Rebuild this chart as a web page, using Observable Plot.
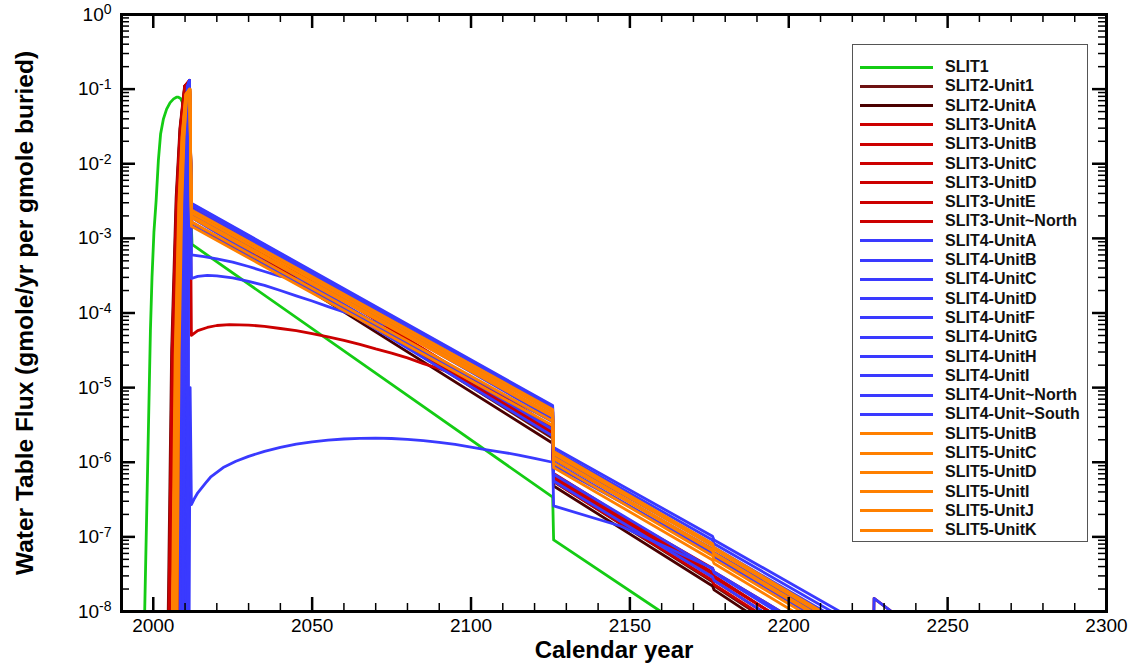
<!DOCTYPE html>
<html>
<head>
<meta charset="utf-8">
<script src="https://cdn.jsdelivr.net/npm/d3@7"></script>
<script src="https://cdn.jsdelivr.net/npm/@observablehq/plot@0.6"></script>
<style>
  body { margin: 0; background: #fff; font-family: "Liberation Sans", Arial, sans-serif; }
  #wrap { position: relative; width: 1138px; height: 671px; }
  #legend { position: absolute; left: 852px; top: 44px; width: 236px; height: 498px;
            border: 1.5px solid #555; background: #fff; box-sizing: border-box; }
  .sw { position: absolute; left: 7px; width: 73px; height: 3px; }
  .lb { position: absolute; left: 92px; font-weight: bold; font-size: 16px; line-height: 18px; color: #111; white-space: nowrap; }
</style>
</head>
<body>
<div id="wrap"><div id="legend"></div></div>
<script>
// ---- data: [calendar year, water table flux] ----
const SLIT1 = [[1997.3,1e-8],[1999.1,5.8e-5],[1999.6,3.0e-4],[2000.2,1.2e-3],[2000.9,3.2e-3],[2001.6,1.1e-2],[2002.3,2.5e-2],[2003.2,4.0e-2],[2004.2,5.4e-2],[2005.3,6.6e-2],[2006.4,7.4e-2],[2007.3,7.8e-2],[2007.9,7.8e-2],[2008.6,7.5e-2],[2009.3,6.5e-2],[2010,5.0e-2],[2010.6,3.4e-2],[2011.2,1.2e-2],[2011.7,3e-3],[2012.2,8.3e-4],[2125.7,3.4e-7],[2126,9.1e-8],[2159.7,1e-8],[2161,9e-9]];
const SLIT2_Unit1 = [[2004.7,1e-8],[2005.77,3.1e-5],[2007.18,3.5e-3],[2008.39,3.0e-2],[2009.86,1.1e-1],[2011.4,1.25e-1],[2012,2.3e-3],[2125.7,2.1e-6],[2126,5.5e-7],[2176,2.5e-8],[2176.5,2.2e-8],[2192.6,7.9e-9]];
const SLIT2_UnitA = [[2005.0,1e-8],[2006.02,3.1e-5],[2007.37,3.5e-3],[2008.52,3.0e-2],[2009.93,1.1e-1],[2011.4,1.28e-1],[2012,2.0e-3],[2125.7,1.8e-6],[2126,4.8e-7],[2176,2.2e-8],[2176.5,1.95e-8],[2190.4,7.9e-9]];
const SLIT3_UnitA = [[2004.9,1e-8],[2005.94,3.1e-5],[2007.31,3.5e-3],[2008.48,3.0e-2],[2009.91,1.1e-1],[2011.4,1.32e-1],[2012,2.8e-3],[2125.7,2.75e-6],[2126,6.2e-7],[2176,2.9e-8],[2176.5,2.6e-8],[2195.4,7.9e-9]];
const SLIT3_UnitB = [[2005.3,1e-8],[2006.28,3.1e-5],[2007.56,3.5e-3],[2008.66,3.0e-2],[2010.0,1.1e-1],[2011.4,1.3e-1],[2012,2.4e-3],[2125.7,2.35e-6],[2126,5.5e-7],[2176,2.6e-8],[2176.5,2.3e-8],[2193.5,7.9e-9]];
const SLIT3_UnitC = [[2009.9,1e-8],[2010.14,3.1e-5],[2010.46,3.5e-3],[2010.73,3.0e-2],[2011.06,1.1e-1],[2011.4,1.3e-1],[2012,5.0e-5],[2014,5.8e-5],[2017,6.4e-5],[2020,6.8e-5],[2024,7.0e-5],[2030,6.9e-5],[2035,6.6e-5],[2040,6.2e-5],[2045,5.8e-5],[2050,5.3e-5],[2055,4.8e-5],[2060,4.3e-5],[2065,3.8e-5],[2070,3.3e-5],[2075,2.9e-5],[2080,2.5e-5],[2085,2.1e-5],[2090,1.8e-5],[2095,1.5e-5],[2100,1.27e-5],[2105,1.05e-5],[2125.7,2.95e-6],[2126,7.1e-7],[2176,3.35e-8],[2176.5,3.0e-8],[2197.6,7.9e-9]];
const SLIT3_UnitD = [[2007.9,1e-8],[2008.46,3.1e-5],[2009.2,3.5e-3],[2009.83,3.0e-2],[2010.6,1.1e-1],[2011.4,1.3e-1],[2012,2.0e-3],[2125.7,2.5e-6],[2126,6.0e-7],[2176,3.2e-8],[2176.5,2.85e-8],[2197.7,7.9e-9]];
const SLIT3_UnitE = [[2010.2,1e-8],[2010.39,3.1e-5],[2010.64,3.5e-3],[2010.86,3.0e-2],[2011.12,1.1e-1],[2011.4,1.3e-1],[2012,2.6e-3],[2125.7,2.9e-6],[2126,6.6e-7],[2176,3.3e-8],[2176.5,2.95e-8],[2197.7,7.9e-9]];
const SLIT3_UnitNorth = [[2008.2,1e-8],[2008.71,3.1e-5],[2009.38,3.5e-3],[2009.96,3.0e-2],[2010.66,1.1e-1],[2011.4,1.3e-1],[2012,1.66e-3],[2125.7,2.7e-6],[2126,6.3e-7],[2176,3.8e-8],[2176.5,3.4e-8],[2201.4,7.9e-9],[2226.6,3e-9],[2226.85,1.5e-8],[2235.5,7.9e-9]];
const SLIT4_UnitA = [[2008.4,1e-8],[2008.88,3.1e-5],[2009.51,3.5e-3],[2010.05,3.0e-2],[2010.71,1.1e-1],[2011.4,1.3e-1],[2012,2.95e-3],[2125.7,5.75e-6],[2126,1.58e-6],[2176,1.02e-7],[2176.5,9.1e-8],[2219,8.5e-9]];
const SLIT4_UnitB = [[2010.6,1e-8],[2010.73,3.1e-5],[2010.9,3.5e-3],[2011.04,3.0e-2],[2011.22,1.1e-1],[2011.4,1.3e-1],[2012,6.0e-4],[2016,5.7e-4],[2020,5.3e-4],[2025,4.8e-4],[2030,4.2e-4],[2035,3.6e-4],[2040,3.1e-4],[2045,2.85e-4],[2052,2.45e-4],[2125.7,4.2e-6],[2126,1.1e-6],[2176,6.9e-8],[2176.5,6.2e-8],[2212.8,7.9e-9]];
const SLIT4_UnitC = [[2010.9,1e-8],[2010.98,3.1e-5],[2011.09,3.5e-3],[2011.18,3.0e-2],[2011.29,1.1e-1],[2011.4,1.3e-1],[2012,2.9e-4],[2014,3.1e-4],[2017,3.2e-4],[2020,3.15e-4],[2025,2.95e-4],[2030,2.65e-4],[2035,2.35e-4],[2040,2.0e-4],[2045,1.7e-4],[2050,1.45e-4],[2055,1.22e-4],[2060,1.03e-4],[2067,8.2e-5],[2075,6.6e-5],[2125.7,3.8e-6],[2126,1.0e-6],[2176,6.0e-8],[2176.5,5.4e-8],[2209.5,7.9e-9]];
const SLIT4_UnitD = [[2011.3,1e-8],[2011.6,1e-5],[2012,2.7e-7],[2013,3.3e-7],[2014,3.9e-7],[2016.5,5.3e-7],[2018,6.3e-7],[2022,8.5e-7],[2026,1.03e-6],[2030,1.2e-6],[2035,1.4e-6],[2040,1.58e-6],[2045,1.75e-6],[2050,1.88e-6],[2055,1.98e-6],[2060,2.05e-6],[2065,2.09e-6],[2070,2.1e-6],[2075,2.08e-6],[2080,2.03e-6],[2085,1.95e-6],[2090,1.85e-6],[2095,1.73e-6],[2100,1.6e-6],[2105,1.47e-6],[2110,1.36e-6],[2115,1.25e-6],[2120,1.13e-6],[2125.7,1.0e-6],[2126,2.6e-7],[2147,1.4e-7],[2176,3.8e-8],[2176.5,3.4e-8],[2201.4,7.9e-9]];
const SLIT4_UnitF = [[2009.0,1e-8],[2009.38,3.1e-5],[2009.89,3.5e-3],[2010.32,3.0e-2],[2010.85,1.1e-1],[2011.4,1.3e-1],[2012,2.5e-3],[2125.7,4.7e-6],[2126,1.23e-6],[2176,7.8e-8],[2176.5,7.0e-8],[2214.8,7.9e-9]];
const SLIT4_UnitG = [[2010.0,1e-8],[2010.22,3.1e-5],[2010.52,3.5e-3],[2010.77,3.0e-2],[2011.08,1.1e-1],[2011.4,1.3e-1],[2012,2.2e-3],[2125.7,2.75e-6],[2126,6.9e-7],[2176,3.7e-8],[2176.5,3.3e-8],[2200,7.9e-9]];
const SLIT4_UnitH = [[2008.8,1e-8],[2009.22,3.1e-5],[2009.76,3.5e-3],[2010.23,3.0e-2],[2010.8,1.1e-1],[2011.4,1.3e-1],[2012,2.75e-3],[2125.7,4.9e-6],[2126,1.3e-6],[2176,8.1e-8],[2176.5,7.2e-8],[2215.3,7.9e-9]];
const SLIT4_UnitI = [[2010.4,1e-8],[2010.56,3.1e-5],[2010.77,3.5e-3],[2010.95,3.0e-2],[2011.17,1.1e-1],[2011.4,1.3e-1],[2012,2.9e-3],[2125.7,5.4e-6],[2126,1.45e-6],[2176,9.1e-8],[2176.5,8.1e-8],[2217.7,7.9e-9],[2226.6,3e-9],[2226.85,1.5e-8],[2235.5,7.9e-9]];
const SLIT4_UnitNorth = [[2009.4,1e-8],[2009.72,3.1e-5],[2010.14,3.5e-3],[2010.5,3.0e-2],[2010.94,1.1e-1],[2011.4,1.3e-1],[2012,1.9e-3],[2125.7,2.25e-6],[2126,5.6e-7],[2176,2.9e-8],[2176.5,2.6e-8],[2195.5,7.9e-9]];
const SLIT4_UnitSouth = [[2011.0,1e-8],[2011.06,3.1e-5],[2011.15,3.5e-3],[2011.22,3.0e-2],[2011.31,1.1e-1],[2011.4,1.3e-1],[2012,1.5e-3],[2125.7,3.5e-6],[2126,9.1e-7],[2176,6.3e-8],[2176.5,5.6e-8],[2212.3,7.9e-9]];
const SLIT5_UnitB = [[2006.0,1e-8],[2006.88,2.7e-5],[2008.04,2.9e-3],[2009.03,2.3e-2],[2010.24,8.5e-2],[2011.5,1.0e-1],[2012,2.2e-3],[2125.7,4.7e-6],[2126,1.3e-6],[2176,7.6e-8],[2176.5,6.8e-8],[2213.2,7.9e-9]];
const SLIT5_UnitC = [[2006.4,1e-8],[2007.22,2.7e-5],[2008.29,2.9e-3],[2009.21,2.3e-2],[2010.33,8.5e-2],[2011.5,1.0e-1],[2012,1.9e-3],[2125.7,4.1e-6],[2126,1.12e-6],[2176,6.5e-8],[2176.5,5.8e-8],[2210.4,7.9e-9]];
const SLIT5_UnitD = [[2006.8,1e-8],[2007.55,2.7e-5],[2008.54,2.9e-3],[2009.39,2.3e-2],[2010.42,8.5e-2],[2011.5,1.0e-1],[2012,1.66e-3],[2125.7,3.55e-6],[2126,9.8e-7],[2176,5.6e-8],[2176.5,5.0e-8],[2208,7.9e-9]];
const SLIT5_UnitI = [[2007.2,1e-8],[2007.89,2.7e-5],[2008.79,2.9e-3],[2009.57,2.3e-2],[2010.51,8.5e-2],[2011.5,1.0e-1],[2012,2.0e-3],[2125.7,4.3e-6],[2126,1.17e-6],[2176,6.8e-8],[2176.5,6.05e-8],[2211.2,7.9e-9]];
const SLIT5_UnitJ = [[2007.5,1e-8],[2008.14,2.7e-5],[2008.98,2.9e-3],[2009.7,2.3e-2],[2010.58,8.5e-2],[2011.5,1.0e-1],[2012,1.45e-3],[2125.7,3.1e-6],[2126,8.5e-7],[2176,4.9e-8],[2176.5,4.4e-8],[2205.5,7.9e-9]];
const SLIT5_UnitK = [[2006.2,1e-8],[2007.05,2.7e-5],[2008.16,2.9e-3],[2009.12,2.3e-2],[2010.28,8.5e-2],[2011.5,1.0e-1],[2012,2.4e-3],[2125.7,5.1e-6],[2126,1.4e-6],[2176,8.1e-8],[2176.5,7.2e-8],[2214.4,7.9e-9]];

const seriesNames = ["SLIT1","SLIT2-Unit1","SLIT2-UnitA","SLIT3-UnitA","SLIT3-UnitB","SLIT3-UnitC","SLIT3-UnitD","SLIT3-UnitE","SLIT3-Unit~North",
  "SLIT4-UnitA","SLIT4-UnitB","SLIT4-UnitC","SLIT4-UnitD","SLIT4-UnitF","SLIT4-UnitG","SLIT4-UnitH","SLIT4-UnitI","SLIT4-Unit~North","SLIT4-Unit~South",
  "SLIT5-UnitB","SLIT5-UnitC","SLIT5-UnitD","SLIT5-UnitI","SLIT5-UnitJ","SLIT5-UnitK"];
const seriesData = [SLIT1,SLIT2_Unit1,SLIT2_UnitA,SLIT3_UnitA,SLIT3_UnitB,SLIT3_UnitC,SLIT3_UnitD,SLIT3_UnitE,SLIT3_UnitNorth,
  SLIT4_UnitA,SLIT4_UnitB,SLIT4_UnitC,SLIT4_UnitD,SLIT4_UnitF,SLIT4_UnitG,SLIT4_UnitH,SLIT4_UnitI,SLIT4_UnitNorth,SLIT4_UnitSouth,
  SLIT5_UnitB,SLIT5_UnitC,SLIT5_UnitD,SLIT5_UnitI,SLIT5_UnitJ,SLIT5_UnitK];
const GREEN = "#14cc14", MAROON1 = "#6e1212", MAROON2 = "#4a0000", RED = "#cc0000", BLUE = "#3a3aff", ORANGE = "#ff8000";
const seriesColors = [GREEN, MAROON1, MAROON2, RED, RED, RED, RED, RED, RED,
  BLUE, BLUE, BLUE, BLUE, BLUE, BLUE, BLUE, BLUE, BLUE, BLUE,
  ORANGE, ORANGE, ORANGE, ORANGE, ORANGE, ORANGE];

const xMajorTicks = [2000, 2050, 2100, 2150, 2200, 2250, 2300];
const xMinorTicks = d3.range(2000, 2300, 10).filter(v => v % 50 !== 0);
const yMajorTicks = [1e0, 1e-1, 1e-2, 1e-3, 1e-4, 1e-5, 1e-6, 1e-7, 1e-8];
const yMinorTicks = [];
for (let e = -8; e < 0; e++) for (let m = 2; m <= 9; m++) yMinorTicks.push(m * Math.pow(10, e));

const xLabel = "Calendar year";
const yLabel = "Water Table Flux (gmole/yr per gmole buried)";

// ---- build table ----
const rows = seriesNames.flatMap((name, i) => seriesData[i].map(([year, value]) => ({series: name, year, value})));

const W = 1138, H = 671, mL = 121, mR = 32, mT = 14, mB = 60;
const pw = W - mL - mR, ph = H - mT - mB;

const chart = Plot.plot({
  width: W, height: H,
  marginLeft: mL, marginRight: mR, marginTop: mT, marginBottom: mB,
  style: {fontFamily: "'Liberation Sans', Arial, sans-serif", background: "white", color: "#000"},
  x: {domain: [1990, 2300]},
  y: {type: "log", domain: [1e-8, 1]},
  color: {domain: seriesNames, range: seriesColors},
  marks: [
    Plot.line(rows, {x: "year", y: "value", z: "series", stroke: "series", strokeWidth: 2.8, strokeLinejoin: "round", clip: true}),
    // ticks (inward, on all four sides)
    Plot.tickX(xMajorTicks, {x: d => d, insetTop: ph - 14, strokeWidth: 2.5}),
    Plot.tickX(xMinorTicks, {x: d => d, insetTop: ph - 8, strokeWidth: 1.5}),
    Plot.tickX(xMajorTicks, {x: d => d, insetBottom: ph - 14, strokeWidth: 2.5}),
    Plot.tickX(xMinorTicks, {x: d => d, insetBottom: ph - 8, strokeWidth: 1.5}),
    Plot.tickY(yMajorTicks, {y: d => d, insetRight: pw - 14, strokeWidth: 2.5}),
    Plot.tickY(yMinorTicks, {y: d => d, insetRight: pw - 8, strokeWidth: 1.5}),
    Plot.tickY(yMajorTicks, {y: d => d, insetLeft: pw - 14, strokeWidth: 2.5}),
    Plot.tickY(yMinorTicks, {y: d => d, insetLeft: pw - 8, strokeWidth: 1.5}),
    Plot.frame({stroke: "black", strokeWidth: 3}),
    Plot.axisX({ticks: xMajorTicks, tickSize: 0, tickPadding: 7, tickFormat: d => String(d), fontSize: 19, label: null}),
    Plot.axisY({ticks: yMajorTicks, tickSize: 0, tickPadding: 10, tickFormat: d => "10^" + Math.round(Math.log10(d)), fontSize: 19, label: null}),
    Plot.text([xLabel], {text: d => d, frameAnchor: "bottom", dy: 46, fontSize: 24, fontWeight: "bold"}),
    Plot.text([yLabel], {text: d => d, frameAnchor: "left", dx: -96, rotate: -90, textAnchor: "middle", fontSize: 24.5, fontWeight: "bold"})
  ]
});

// superscript exponents on the y tick labels
d3.select(chart).selectAll('g[aria-label="y-axis tick label"] text').each(function() {
  const t = this.textContent;
  const m = /^10\^(-?\d+)$/.exec(t);
  if (!m) return;
  const sel = d3.select(this);
  sel.text("10");
  sel.append("tspan").attr("dy", "-0.45em").attr("font-size", "14px").text(m[1]);
});

const wrap = document.getElementById("wrap");
wrap.insertBefore(chart, wrap.firstChild);
chart.style.position = "absolute"; chart.style.left = "0"; chart.style.top = "0";

// legend
const lg = document.getElementById("legend");
seriesNames.forEach((name, i) => {
  const cy = 22 + i * 19.3;
  const sw = document.createElement("div");
  sw.className = "sw"; sw.style.top = (cy - 1.5) + "px"; sw.style.background = seriesColors[i];
  lg.appendChild(sw);
  const lb = document.createElement("div");
  lb.className = "lb"; lb.style.top = (cy - 9) + "px"; lb.textContent = name;
  lg.appendChild(lb);
});
</script>
</body>
</html>
